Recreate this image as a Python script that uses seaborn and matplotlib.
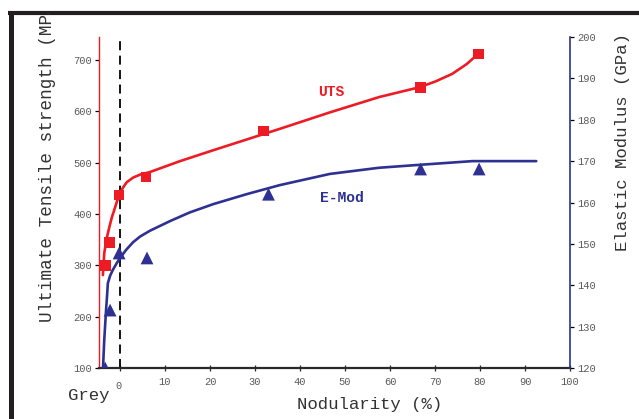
import matplotlib
matplotlib.use("Agg")
import matplotlib.pyplot as plt
import seaborn as sns
from matplotlib.lines import Line2D
from matplotlib.transforms import Bbox

uts_nodularity = [-3.3, -2.4, -0.2, 5.8, 31.9, 66.7, 79.6]
uts_values = [300, 345, 437, 472, 562, 646, 712]

emod_nodularity = [-3.3, -2.2, -0.2, 6.0, 33.0, 66.8, 79.8]
emod_values = [120.0, 134.0, 147.8, 146.6, 162.0, 168.1, 168.1]

# fitted trend lines
uts_fit_x = [-3.8, -3.5, -2.9, -2.3, -1.8, -1.2, -0.7, 0.0, 0.7, 1.5, 2.9, 4.5, 6.7, 13.3, 20.6,
             35.5, 46.6, 57.6, 66.5, 70.0, 73.8, 77.0, 79.6]
uts_fit_y = [281, 324, 355, 377, 394, 410, 424, 441, 452, 462, 471, 477, 482, 503, 524,
             566, 598, 628, 647, 658, 673, 692, 712]

emod_fit_x = [-3.8, -3.5, -3.1, -2.9, -2.7, -2.2, -1.6, -0.8, 0.0, 1.4, 2.9, 4.5, 6.7, 11.1, 15.5,
              20.7, 28.1, 35.5, 46.6, 57.6, 66.5, 78.3, 92.5]
emod_fit_y = [119.5, 126.8, 134.0, 137.1, 140.5, 142.3, 143.7, 145.2, 146.6, 148.6, 150.4, 151.8,
              153.2, 155.5, 157.6, 159.6, 162.0, 164.2, 166.9, 168.4, 169.1, 170.0, 170.0]

x_ticks = [0, 10, 20, 30, 40, 50, 60, 70, 80, 90, 100]
uts_ticks = [100, 200, 300, 400, 500, 600, 700]
emod_ticks = [120, 130, 140, 150, 160, 170, 180, 190, 200]

RED = "#ed1c24"
NAVY = "#2e3192"
GREY_TXT = "#5a5a5a"
FRAME = "#231f20"

sns.set_style("ticks")
plt.rcParams["font.family"] = ["Liberation Mono", "DejaVu Sans Mono"]

W, H = 639, 419
fig = plt.figure(figsize=(W / 100, H / 100), dpi=100)
ax = fig.add_axes([98.5 / W, 1 - 368 / H, (570 - 98.5) / W, (368 - 37) / H])
ax2 = ax.twinx()

# UTS on the left axis
ax.axvline(0, color="black", lw=1.3, ls=(0, (5, 3)), zorder=1)
sns.lineplot(x=uts_fit_x, y=uts_fit_y, ax=ax, color=RED, lw=1.9, sort=False, estimator=None,
             zorder=2, solid_joinstyle="round")
sns.scatterplot(x=uts_nodularity, y=uts_values, ax=ax, color=RED, marker="s", s=60,
                edgecolor="none", zorder=3)

# E-Mod on the right axis
sns.lineplot(x=emod_fit_x, y=emod_fit_y, ax=ax2, color=NAVY, lw=1.9, sort=False, estimator=None,
             zorder=2, solid_joinstyle="round")
sns.scatterplot(x=emod_nodularity, y=emod_values, ax=ax2, color=NAVY, marker="^", s=85,
                edgecolor="none", zorder=3)

ax.set_xlim(-4.78, 100)
ax.set_ylim(100, 745)
ax2.set_ylim(120, 200)

ax.set_xticks(x_ticks)
ax.set_xticklabels([""] + [str(t) for t in x_ticks[1:]])
ax.set_yticks(uts_ticks)
ax2.set_yticks(emod_ticks)

for s in ["top", "right"]:
    ax.spines[s].set_visible(False)
for s in ["top", "left", "bottom"]:
    ax2.spines[s].set_visible(False)
ax.spines["left"].set_color(RED)
ax.spines["left"].set_linewidth(1.0)
ax.spines["bottom"].set_color("#2a2a2a")
ax.spines["bottom"].set_linewidth(1.6)
ax2.spines["right"].set_color(NAVY)
ax2.spines["right"].set_linewidth(1.2)

ax.tick_params(axis="x", direction="inout", length=5, width=0.9, color="#2a2a2a",
               labelsize=7.5, labelcolor=GREY_TXT, pad=4)
ax.tick_params(axis="y", direction="out", length=3, width=0.9, color="black",
               labelsize=7.5, labelcolor=GREY_TXT, pad=1.5)
ax2.tick_params(axis="y", direction="out", length=3, width=0.9, color="black",
                labelsize=7.5, labelcolor=GREY_TXT, pad=2)
ax.set_xlabel("")
ax.set_ylabel("")
ax2.set_ylabel("")

# the "0" tick label sits a little lower, with "Grey" beside it
fig.text(119 / W, 1 - 386 / H, "0", fontsize=7.5, color=GREY_TXT, ha="center", va="center")
fig.text(89 / W, 1 - 395 / H, "Grey", fontsize=12.5, color="#333333", ha="center", va="center")

# series labels
ax.text(47, 638, "UTS", color=RED, fontsize=10.5, fontweight="bold", ha="center", va="center")
ax2.text(49.2, 161, "E-Mod", color=NAVY, fontsize=10.5, fontweight="bold", ha="center", va="center")

# axis titles
fig.text(370 / W, 1 - 404 / H, "Nodularity (%)", fontsize=12.5, color="#333333",
         ha="center", va="center")
yl = fig.text(47 / W, 1 - 322 / H, "Ultimate Tensile strength (MPa)", fontsize=12.7,
              color="#333333", rotation=90, ha="center", va="bottom")
yl.set_clip_box(Bbox.from_extents(0, 0, W, H - 13))
yl.set_clip_on(True)
fig.text(623 / W, 1 - 142 / H, "Elastic Modulus (GPa)", fontsize=12.5, color="#333333",
         rotation=90, ha="center", va="center")

# thick frame along the top and left edge
fig.add_artist(Line2D([10.5 / W, 10.5 / W], [0, 1 - 11 / H], transform=fig.transFigure,
                      color=FRAME, lw=3.6, solid_capstyle="butt"))
fig.add_artist(Line2D([8 / W, 1], [1 - 13 / H, 1 - 13 / H], transform=fig.transFigure,
                      color=FRAME, lw=3.0, solid_capstyle="butt"))

fig.savefig("out.png", dpi=100)
